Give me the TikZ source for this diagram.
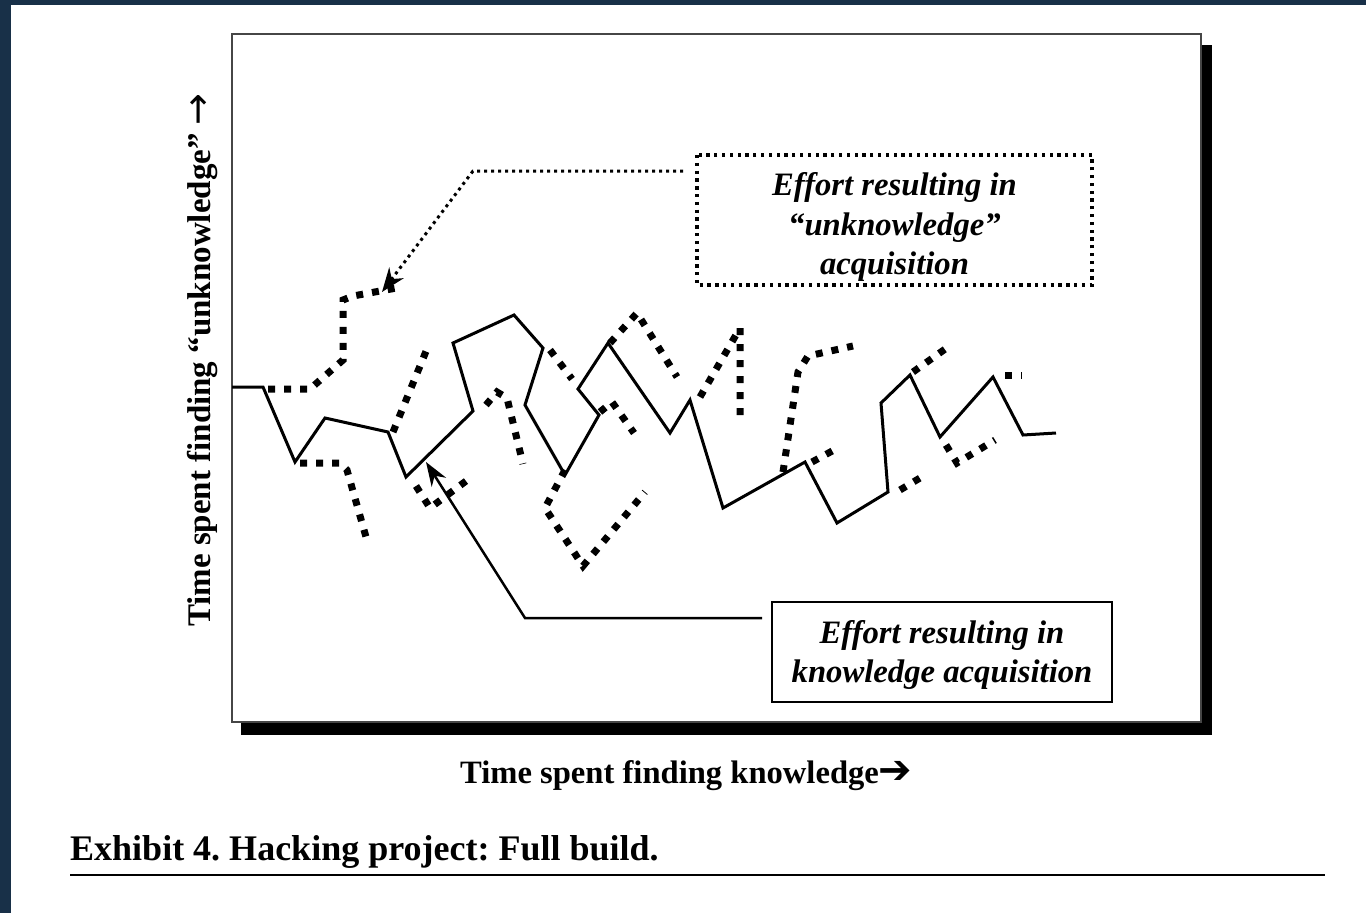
\documentclass[tikz,border=0pt]{standalone}
\usepackage{fontspec}
\setmainfont{Liberation Serif}
\newfontfamily\symfont{DejaVu Sans}
\usetikzlibrary{arrows.meta}
\definecolor{navy}{RGB}{24,48,72}
\definecolor{framegray}{RGB}{70,70,70}
\frenchspacing
\begin{document}
\begin{tikzpicture}[x=1pt,y=-1pt,
  unk/.style={line width=7pt, dash pattern=on 7pt off 9pt},
  kn/.style={line width=3pt, line join=miter},
  dotbox/.style={draw, line width=3.3pt, dash pattern=on 3.3pt off 4.5pt},
  solidbox/.style={draw, line width=2.5pt},
  boxtext/.style={align=center, font=\fontsize{32.7}{39.5}\selectfont\bfseries\itshape},
  conn/.style={line width=3pt, dash pattern=on 3pt off 4pt}
]
\useasboundingbox (0,0) rectangle (1366,913);
\fill[navy] (0,0) rectangle (1366,913);
\fill[white] (11,5) rectangle (1366,913);

% plot frame and shadow
\fill[black] (1201,45) rectangle (1212,735);
\fill[black] (241,722) rectangle (1212,735);
\draw[framegray, line width=1.5pt] (232,34) rectangle (1201,722);

% knowledge path
\draw[kn] (232,387) -- (263,387) -- (295,462) -- (325,418) -- (388,432) -- (406,477)
  -- (473,411) -- (453,343) -- (514,315) -- (543,348) -- (525,405) -- (565,475)
  -- (599,415) -- (578,389) -- (608,343) -- (670,433) -- (690,400) -- (723,508)
  -- (805,462) -- (837,523) -- (888,492) -- (881,403) -- (910,375) -- (940,437)
  -- (993,377) -- (1023,435) -- (1056,433);

% unknowledge fragments
\draw[unk] (268,389) -- (310,389) -- (343,360) -- (343,300) -- (353,296) -- (402,287);
\draw[unk] (300,463) -- (340,463) -- (347,470) -- (366,537);
\draw[unk] (393,432) -- (429,344);
\draw[unk] (416,486) -- (430,508) -- (470,478);
\draw[unk] (486,405) -- (497,392) -- (507,398) -- (523,464);
\draw[unk] (550,350) -- (572,379);
\draw[unk] (565,470) -- (545,508) -- (583,566) -- (645,492);
\draw[unk] (600,412) -- (612,402) -- (634,433);
\draw[unk] (610,343) -- (637,313) -- (677,377);
\draw[unk] (700,397) -- (740,328) -- (740,416);
\draw[unk] (783,472) -- (798,372) -- (808,356) -- (853,346);
\draw[unk] (812,462) -- (834,450);
\draw[unk] (900,490) -- (920,478);
\draw[unk] (913,372) -- (948,347);
\draw[unk] (946,445) -- (957,463) -- (995,440);
\draw[unk] (1005,375) -- (1022,375);

% label boxes
\draw[dotbox] (697,155) rectangle (1092,285);
\node[boxtext] (ubox) at (894.5,227) {Effort resulting in\\“unknowledge”\\acquisition};
\draw[solidbox] (772,602) rectangle (1112,702);
\node[boxtext] (kbox) at (942,655) {Effort resulting in\\knowledge acquisition};

% connectors
\coordinate (ustart) at (683,171);
\coordinate (ubend) at (473,171);
\coordinate (utip) at (382,292);
\draw[conn, -{Stealth[length=24pt,width=18pt]}] (ustart) -- (ubend) -- (utip);
\coordinate (kstart) at (762,618);
\coordinate (kbend) at (525,618);
\coordinate (ktip) at (426,462);
\draw[line width=2.5pt, -{Stealth[length=24pt,width=17pt]}] (kstart) -- (kbend) -- (ktip);

% axis labels
\node[rotate=90, font=\fontsize{33}{38}\selectfont\bfseries, inner sep=0pt] (ylab) at (203,360)
  {Time spent finding “unknowledge” {\symfont\mdseries\fontsize{38}{38}\selectfont →}};
\node[anchor=base west, font=\fontsize{32.6}{38}\selectfont\bfseries, inner sep=0pt] (xlab) at (460,783)
  {Time spent finding knowledge{\symfont\fontsize{40}{40}\selectfont ➔}};

% caption
\node[anchor=base west, font=\fontsize{36}{40}\selectfont\bfseries, inner sep=0pt] (cap) at (70,860)
  {Exhibit 4. Hacking project: Full build.};
\draw[line width=2pt] (70,875) -- (1325,875);
\end{tikzpicture}
\end{document}
